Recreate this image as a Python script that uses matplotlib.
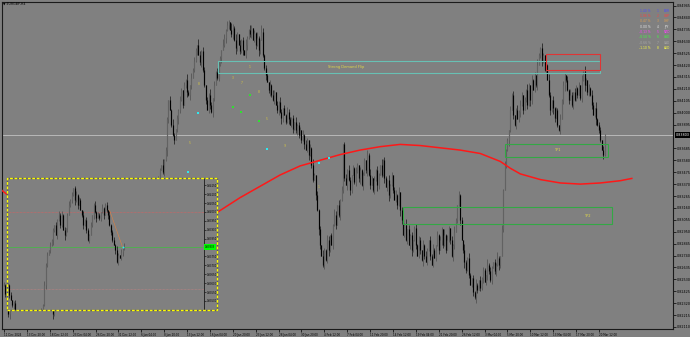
import matplotlib
matplotlib.use("Agg")
import matplotlib.pyplot as plt
from matplotlib.patches import Rectangle

W, H = 690, 337
BG = "#808080"

# EURGBP H4 closes (price x 10000), 11 Dec 2024 04:00 onwards
closes = [
    8248, 8240, 8236, 8222, 8245, 8252, 8258, 8262, 8255, 8260,
    8266, 8270, 8264, 8268, 8274, 8271, 8276, 8280, 8275, 8278,
    8283, 8279, 8275, 8270, 8272, 8265, 8260, 8262, 8255, 8250,
    8246, 8240, 8236, 8230, 8222, 8234, 8240, 8248, 8255, 8252,
    8260, 8265, 8262, 8270, 8275, 8272, 8278, 8282, 8278, 8285,
    8288, 8284, 8290, 8286, 8282, 8288, 8292, 8289, 8294, 8290,
    8286, 8292, 8296, 8293, 8298, 8301, 8297, 8293, 8290, 8295,
    8299, 8302, 8298, 8294, 8290, 8296, 8292, 8288, 8284, 8280,
    8276, 8280, 8285, 8282, 8288, 8292, 8296, 8300, 8296, 8302,
    8298, 8295, 8290, 8286, 8282, 8286, 8290, 8298, 8305, 8302,
    8310, 8316, 8312, 8320, 8326, 8322, 8330, 8335, 8340,
    8349, 8354, 8348, 8358, 8367, 8394, 8411, 8402,
    8389, 8380, 8376, 8386, 8395, 8402, 8411, 8420, 8407, 8424, 8429, 8418,
    8416, 8424, 8431, 8438, 8446, 8455, 8460, 8451, 8445, 8454, 8438,
    8424, 8411, 8402, 8416, 8407, 8401, 8413, 8424, 8436, 8431, 8442, 8448,
    8455, 8460, 8466, 8473, 8477, 8480, 8473, 8469, 8475,
    8464, 8457, 8469, 8460, 8454, 8464, 8455, 8451,
    8460, 8466, 8473, 8469, 8475, 8464, 8470, 8460, 8466, 8455,
    8464, 8471, 8451, 8439, 8433,
    8427, 8420, 8424, 8416, 8411, 8418, 8407, 8402, 8409, 8401,
    8395, 8404, 8398, 8392, 8401, 8394, 8389, 8395, 8386, 8392, 8385,
    8389, 8380, 8385, 8376, 8380, 8372, 8367, 8376, 8363, 8369,
    8354, 8341, 8345, 8327, 8314, 8297, 8283, 8274,
    8266, 8279, 8270, 8288, 8279, 8292, 8283, 8301,
    8310, 8301, 8319, 8310, 8323, 8332, 8372,
    8342, 8336, 8349, 8341, 8332, 8345, 8351, 8339, 8348, 8354, 8342, 8349, 8336,
    8345, 8358, 8349, 8363, 8345, 8336, 8342, 8332, 8341, 8349, 8336, 8345, 8354,
    8345, 8358, 8342, 8334, 8341, 8327, 8336, 8345, 8332, 8323, 8327, 8319, 8330, 8314,
    8305, 8292, 8301, 8288, 8297, 8283, 8292, 8279, 8288, 8298, 8283, 8274, 8288, 8279,
    8270, 8283, 8274, 8268, 8279, 8288, 8274, 8266, 8279, 8272, 8283, 8292, 8279, 8288,
    8297, 8283, 8292, 8279, 8288, 8298, 8288, 8274, 8283, 8295, 8305, 8319, 8327, 8305, 8288, 8279,
    8268, 8261, 8272, 8257, 8248, 8254, 8242, 8237, 8248, 8244, 8252, 8245,
    8254, 8261, 8251, 8257, 8266, 8260, 8252, 8263, 8268, 8260, 8266, 8272, 8266, 8274,
    8297, 8332, 8354, 8367, 8376, 8385, 8402, 8416, 8398, 8389,
    8402, 8394, 8401, 8407, 8416, 8402, 8411, 8420, 8407,
    8424, 8411, 8429, 8420, 8433, 8424, 8442, 8451, 8457,
    8446, 8451, 8438, 8442, 8429, 8416, 8402, 8411, 8404,
    8395, 8402, 8389, 8385, 8394, 8411, 8424, 8433, 8429, 8420,
    8411, 8416, 8407, 8418, 8411, 8422, 8416, 8424, 8413, 8429, 8436,
    8424, 8429, 8418, 8422, 8416, 8407, 8398, 8404, 8394, 8389,
    8385, 8376, 8367, 8363, 8380,
]
# upper / lower wick per bar, in pips (one digit per bar)
wick_up = (
    "21302413205123041231420315230412031524130241302513"
    "20413025140312041302513204130241520314203125041302"
    "31425031420513204152031420315204132053142031520413"
    "42053142063152041305214203152064132051420315203142"
    "21304132051420315204130521430215304130241520314203"
    "13204152031420513204130251403125041302413205142031"
    "52041320514203152041305214203152041320514203152041"
    "31204130251420315204130521420315204132051420315204"
    "21304152031420513204130251403125041302413205142031"
)
wick_dn = (
    "13024150231402513204130251420315204132051402315240"
    "02413520314025132041530241352031402513204153024135"
    "20314052130241530214035213024153021403521302415302"
    "31402513024153021403512302415302140352130241530214"
    "02413520314025132041530241352031402513204153024135"
    "14025130241530214035213024153021403521302415302140"
    "20314052130241530214035213024153021403521302415302"
    "03152041302513024153021403521302415302140352130241"
    "13024150231402513204130251420315204132051402315240"
)
bid_price = 0.83803

time_labels = [
    "11 Dec 2024", "13 Dec 20:00", "18 Dec 12:00", "23 Dec 04:00", "26 Dec 20:00",
    "31 Dec 12:00", "6 Jan 04:00", "8 Jan 20:00", "13 Jan 12:00", "16 Jan 04:00",
    "20 Jan 20:00", "23 Jan 12:00", "28 Jan 04:00", "30 Jan 20:00", "4 Feb 12:00",
    "7 Feb 04:00", "11 Feb 20:00", "14 Feb 12:00", "19 Feb 04:00", "21 Feb 20:00",
    "26 Feb 12:00", "3 Mar 04:00", "5 Mar 20:00", "10 Mar 12:00", "13 Mar 04:00",
    "17 Mar 20:00", "20 Mar 12:00",
]
bars_per_label = 16

# moving average (red line)
ma_bars = [-2, 2, 40, 100, 149, 165, 179, 193, 207, 221, 235, 249, 263, 277, 291,
           305, 319, 333, 347, 354, 361, 375, 389, 403, 417, 431, 439]
ma_vals = [8332, 8328, 8305, 8300, 8312, 8325, 8335, 8345, 8353, 8358, 8363, 8367,
           8370, 8372, 8371, 8369, 8367, 8364, 8357, 8351, 8346, 8341, 8338, 8337,
           8338, 8340, 8342]

# zones: (bar from, bar to, price low, price high)
zone_flip = (149.7, 416.8, 0.84350, 0.84456)
zone_red = (379, 417, 0.84377, 0.84518)
zone_tp1 = (350, 422, 0.83609, 0.83724)
zone_tp2 = (279, 425, 0.83018, 0.83168)

# signal markers
sig_bars = [172, 160, 166, 136, 178, 184, 130, 196, 220]
sig_prices = [8440, 8431, 8426, 8425, 8418, 8394, 8373, 8371, 8334]
sig_text = ["1", "3", "7", "8", "8", "5", "5", "9", "1"]
green_bars = [172, 160, 166, 178]
green_prices = [8416, 8405, 8401, 8393]
cyan_bars = [136, 184, 227, 220, 129]
cyan_prices = [8400, 8368, 8360, 8356, 8348]

# currency strength panel
strength_pct = ["1.40 %", "1.06 %", "0.47 %", "0.00 %", "-0.13 %", "-0.50 %", "-0.66 %", "-1.10 %"]
strength_ccy = ["EUR", "GBP", "CHF", "JPY", "NZD", "USD", "CAD", "AUD"]
strength_col = ["#4b4bff", "#ff4040", "#e0a050", "#e8e8e8", "#ff40ff", "#40ff40", "#a8a8a8", "#ffff40"]

# inset window closes (price x 100000)
inset_closes = [
    83589, 83533, 83505, 83477, 83488, 83438,
    83430, 83410, 83425, 83400, 83415, 83395, 83420, 83405, 83430, 83415,
    83400, 83420, 83435, 83410, 83425, 83440, 83420, 83445,
    83477, 83589, 83702, 83758, 83786, 83814, 83842,
    83899, 83927, 83870, 83955, 83983, 83927, 83983, 83899,
    83870, 83910, 83983, 84039, 84067, 84095, 84134, 84067, 84095,
    84039, 84067, 84011, 83983, 83927, 83955, 83899, 83842, 83870, 83927,
    83983, 84039, 84000, 83966, 83983, 83966, 84000, 84022, 83983, 84039, 84011,
    83983, 83927, 83887, 83842, 83814, 83786, 83719, 83758, 83741,
    83775, 83792, 83803,
]
inset_wick_up = "2130241320512304123142031523041203152413024130251320413"
inset_wick_dn = "1302415023140251320413025142031520413205140231524002413"
inset_levels = [0.84000, 0.83803, 0.83567]
inset_fib_bars = [70, 79]
inset_fib_prices = [0.84011, 0.83803]


def fig_box(x0, y0, x1, y1):
    return [x0 / W, 1 - y1 / H, (x1 - x0) / W, (y1 - y0) / H]


def draw_candles(ax, vals, scale, up, dn, pip, lw):
    xs, lo, hi, wl, wh, cols, wcols = [], [], [], [], [], [], []
    prev = vals[0]
    for i, c in enumerate(vals):
        a, b = min(prev, c), max(prev, c)
        if b - a < 0.5:
            b = a + 0.5
        xs.append(i)
        lo.append(a / scale)
        hi.append(b / scale)
        wh.append(b / scale + int(up[i % len(up)]) * pip)
        wl.append(a / scale - int(dn[i % len(dn)]) * pip)
        bull = c >= prev
        cols.append("#626262" if bull else "#000000")
        wcols.append("#505050" if bull else "#1e1e1e")
        prev = c
    ax.vlines(xs, wl, wh, colors=wcols, lw=0.55, zorder=3)
    ax.vlines(xs, lo, hi, colors=cols, lw=lw, zorder=3)


plt.rcParams["font.family"] = ["DejaVu Sans"]
fig = plt.figure(figsize=(W / 100, H / 100), dpi=100, facecolor=BG)

# ---- main chart ----
ax = fig.add_axes(fig_box(2, 2, 673, 329), facecolor=BG)
ax.set_xlim(-1.4, 467.8)
ax.set_ylim(0.82092, 0.84976)

draw_candles(ax, closes, 10000.0, wick_up, wick_dn, 0.0001, 0.85)
ax.plot(ma_bars, [v / 10000.0 for v in ma_vals], color="#ff1818", lw=1.1, zorder=4)
ax.axhline(bid_price, color="#b8b8b8", lw=0.7, zorder=2)

for (b0, b1, p0, p1), col in [(zone_flip, "#68c0b4"), (zone_red, "#e03434"),
                               (zone_tp1, "#33a845"), (zone_tp2, "#33a845")]:
    ax.add_patch(Rectangle((b0, p0), b1 - b0, p1 - p0, fill=False, edgecolor=col,
                           lw=0.8, zorder=5))

txt_col = "#e0d848"
ax.text(239, (zone_flip[2] + zone_flip[3]) / 2, "Strong Demand Flip", color=txt_col,
        fontsize=2.6, ha="center", va="center", zorder=6)
ax.text(387, (zone_tp1[2] + zone_tp1[3]) / 2, "TP1", color=txt_col, fontsize=2.6,
        ha="center", va="center", zorder=6)
ax.text(408, (zone_tp2[2] + zone_tp2[3]) / 2, "TP2", color=txt_col, fontsize=2.6,
        ha="center", va="center", zorder=6)

for b, p, t in zip(sig_bars, sig_prices, sig_text):
    ax.text(b, p / 10000.0, t, color="#d8c840", fontsize=2.2, ha="center", va="center", zorder=6)
ax.scatter(green_bars, [p / 10000.0 for p in green_prices], s=2.5, color="#30e030",
           marker="s", lw=0, zorder=6)
ax.scatter(cyan_bars, [p / 10000.0 for p in cyan_prices], s=2.5, color="#30e8f0",
           marker="s", lw=0, zorder=6)

# axes styling
for s in ax.spines.values():
    s.set_color("#1a1a1a")
    s.set_linewidth(0.8)
ax.yaxis.tick_right()
price_ticks = [round(0.84945 - 0.00105 * k, 5) for k in range(28)]
price_ticks = [t for t in price_ticks if abs(t - bid_price) > 0.0004]
ax.set_yticks(price_ticks)
ax.set_yticklabels([f"{t:.5f}" for t in price_ticks])
ax.tick_params(axis="y", labelsize=2.4, length=1.8, width=0.5, pad=1.2, colors="black")
ax.set_xticks([bars_per_label * k for k in range(len(time_labels))])
ax.set_xticklabels(time_labels)
ax.tick_params(axis="x", labelsize=2.0, length=1.8, width=0.5, pad=1.0, colors="black")
for lab in ax.get_xticklabels():
    lab.set_ha("left")

ax.text(1.0035, bid_price, f"{bid_price:.5f}", transform=ax.get_yaxis_transform(),
        fontsize=2.4, color="white", va="center", ha="left", zorder=7,
        bbox=dict(boxstyle="square,pad=0.25", fc="black", ec="black", lw=0))

fig.text(3 / W, 1 - 4 / H, "\u25bc EURGBP,H4", fontsize=2.3, color="black", va="center")

# currency strength panel
for k in range(len(strength_pct)):
    yy = 1 - (10.7 + 5.35 * k) / H
    c = strength_col[k]
    fig.text(651 / W, yy, strength_pct[k], fontsize=2.2, color=c, ha="right", va="center")
    fig.text(658 / W, yy, str(k + 1), fontsize=2.2, color=c, ha="center", va="center")
    fig.text(664 / W, yy, strength_ccy[k], fontsize=2.2, color=c, ha="left", va="center")

# ---- inset window ----
fig.patches.append(Rectangle((7 / W, 1 - 310 / H), 210 / W, 132 / H, transform=fig.transFigure,
                             facecolor=BG, edgecolor="none", zorder=4))
ins = fig.add_axes(fig_box(7, 178, 204, 310), facecolor=BG, zorder=5)
ins.set_xlim(-0.7, 135.2)
ins.set_ylim(0.83449, 0.84191)
draw_candles(ins, inset_closes, 100000.0, inset_wick_up, inset_wick_dn, 0.00005, 0.85)
ins.axhline(inset_levels[0], color="#d86060", lw=0.5, ls=(0, (1, 1)), zorder=2)
ins.axhline(inset_levels[1], color="#40c040", lw=0.5, zorder=2)
ins.axhline(inset_levels[2], color="#c08080", lw=0.5, ls=(0, (1, 1)), zorder=2)
ins.plot(inset_fib_bars, inset_fib_prices, color="#e08040", lw=0.4, zorder=4)
ins.scatter([inset_fib_bars[1]], [inset_fib_prices[1]], s=2, color="#30e8f0", lw=0, zorder=5)
for name, s in ins.spines.items():
    s.set_visible(name == "right")
    s.set_color("#1a1a1a")
    s.set_linewidth(0.6)
ins.set_xticks([])
ins.yaxis.tick_right()
inset_ticks = [round(0.8415 - 0.0005 * k, 5) for k in range(14)]
inset_ticks = [t for t in inset_ticks if abs(t - inset_levels[1]) > 0.0002]
ins.set_yticks(inset_ticks)
ins.set_yticklabels([f"{t:.5f}" for t in inset_ticks])
ins.tick_params(axis="y", labelsize=1.8, length=1.2, width=0.4, pad=0.8, colors="black")
ins.text(1.006, inset_levels[1], f"{inset_levels[1]:.5f}", transform=ins.get_yaxis_transform(),
         fontsize=1.8, color="black", va="center", ha="left", zorder=7,
         bbox=dict(boxstyle="square,pad=0.3", fc="#00ff00", ec="#00ff00", lw=0))

fig.patches.append(Rectangle((7 / W, 1 - 310 / H), 210 / W, 132 / H, transform=fig.transFigure,
                             fill=False, edgecolor="#5a5a5a", lw=1.0, zorder=8))
fig.patches.append(Rectangle((7 / W, 1 - 310 / H), 210 / W, 132 / H, transform=fig.transFigure,
                             fill=False, edgecolor="#ffff00", lw=1.0, ls=(0, (2, 1.2)), zorder=9))

fig.savefig("out.png", dpi=100, facecolor=BG)
